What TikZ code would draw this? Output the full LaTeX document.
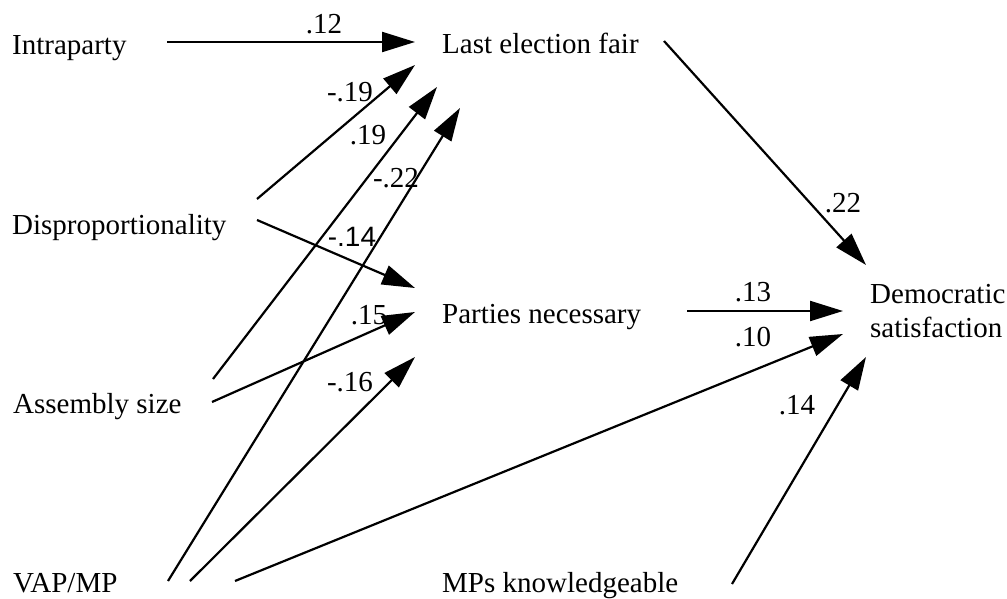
\documentclass[tikz,border=0pt]{standalone}
\usepackage{fontspec}
\setmainfont{Liberation Serif}
\newfontfamily\labsans{Liberation Sans}
\usetikzlibrary{arrows.meta}
\begin{document}
\begin{tikzpicture}[x=1pt,y=-1pt,
  txt/.style={anchor=base west,inner sep=0pt,font=\fontsize{29}{34}\selectfont},
  lab/.style={inner sep=0pt,font=\fontsize{29}{34}\selectfont},
  arr/.style={draw=black,line width=2.2pt,-{Triangle[length=33pt,width=20pt]}}]
\useasboundingbox (0,0) rectangle (1007,599);
% variables
\node[txt] (intra) at (12,55) {Intraparty};
\node[txt] (last) at (442,54) {Last election fair};
\node[txt] (dis) at (12,234) {Disproportionality};
\node[txt] (parties) at (442,323) {Parties necessary};
\node[txt] (asm) at (13,413) {Assembly size};
\node[txt] (vap) at (13,592) {VAP/MP};
\node[txt] (mps) at (442,592) {MPs knowledgeable};
\node[txt,align=left] (dem) at (870,337) {Democratic\\satisfaction};
% paths
\draw[arr] ([shift={(155,-13)}]intra.base west) -- ([shift={(-27,-12)}]last.base west);
\draw[arr] ([shift={(245,-35)}]dis.base west) -- ([shift={(-27,11)}]last.base west);
\draw[arr] ([shift={(200,-34)}]asm.base west) -- ([shift={(-5,33)}]last.base west);
\draw[arr] ([shift={(155,-11)}]vap.base west) -- ([shift={(18,54)}]last.base west);
\draw[arr] ([shift={(245,-14)}]dis.base west) -- ([shift={(-27,-35)}]parties.base west);
\draw[arr] ([shift={(199,-11)}]asm.base west) -- ([shift={(-27,-11)}]parties.base west);
\draw[arr] ([shift={(177,-11)}]vap.base west) -- ([shift={(-27,34)}]parties.base west);
\draw[arr] ([shift={(222,-13)}]last.base west) -- ([shift={(-4,-72)}]dem.base west);
\draw[arr] ([shift={(245,-12)}]parties.base west) -- ([shift={(-27,-26)}]dem.base west);
\draw[arr] ([shift={(222,-11)}]vap.base west) -- ([shift={(-27,-3)}]dem.base west);
\draw[arr] ([shift={(290,-8)}]mps.base west) -- ([shift={(-4,20)}]dem.base west);
% coefficients
\node[lab] (c1) at (324,24) {.12};
\node[lab] (c2) at (350,92) {-.19};
\node[lab] (c3) at (368,135) {.19};
\node[lab] (c4) at (396,178) {-.22};
\node[lab,font=\labsans\fontsize{28}{32}\selectfont] (c5) at (352,237) {-.14};
\node[lab] (c6) at (369,315) {.15};
\node[lab] (c7) at (350,382) {-.16};
\node[lab] (c8) at (843,203) {.22};
\node[lab] (c9) at (753,292) {.13};
\node[lab] (c10) at (753,337) {.10};
\node[lab] (c11) at (797,405) {.14};
\end{tikzpicture}
\end{document}
